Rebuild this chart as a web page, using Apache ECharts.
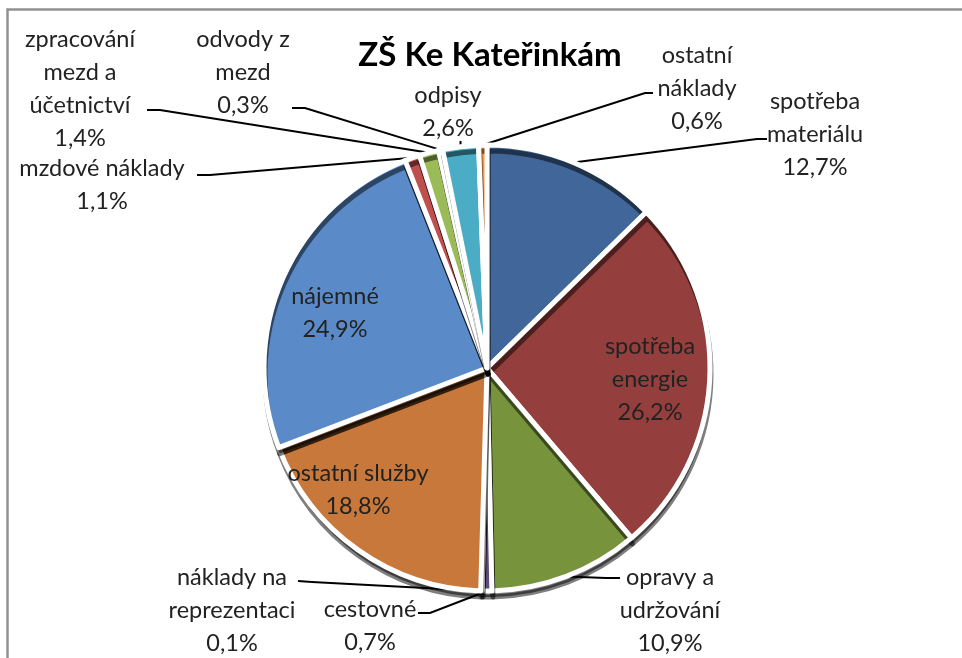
<!DOCTYPE html>
<html>
<head>
<meta charset="utf-8">
<script src="https://cdn.jsdelivr.net/npm/echarts@6/dist/echarts.min.js"></script>
<style>html,body{margin:0;padding:0;background:#fff}</style>
</head>
<body>
<div id="chart" style="width:962px;height:658px"></div>
<script>
// položky nákladů (po směru hodinových ručiček od 12 hodin)
var categories = ['spotřeba\nmateriálu', 'spotřeba\nenergie', 'opravy a\nudržování', 'cestovné',
    'náklady na\nreprezentaci', 'ostatní služby', 'nájemné', 'mzdové náklady',
    'zpracování\nmezd a\núčetnictví', 'odvody z\nmezd', 'odpisy', 'ostatní\nnáklady'];
var values = [12.7, 26.2, 10.9, 0.7, 0.1, 18.8, 24.9, 1.1, 1.4, 0.3, 2.6, 0.6];
var colors = ['#41669a', '#943f3d', '#77933c', '#604a7b', '#31859c', '#c9783b',
    '#5a8bc8', '#c0504d', '#9bbb59', '#8064a2', '#4bacc6', '#f79646'];
var insideLabel = [false, true, false, false, false, true, true, false, false, false, false, false];

// umístění popisků: [x, y textu, x, y ohybu, x, y konce čáry]
var labelPlace = [
    [815, 134, 757, 139, 767, 139],
    [650, 379],
    [670, 610, 606, 578, 620, 578],
    [370, 626, 430, 613, 418, 613],
    [232, 610, 312, 582, 298, 581],
    [358, 490],
    [335, 313],
    [102, 185, 210, 175, 197, 175],
    [80, 89, 160, 110, 147, 110],
    [243, 72, 305, 108, 292, 108],
    [448, 112, null, 141, null, 141],
    [697, 88, 645, 93, 653, 93]
];

var myChart = echarts.init(document.getElementById('chart'));

var data = values.map(function (v, i) {
    return {
        name: categories[i],
        value: v,
        itemStyle: { color: colors[i] },
        label: { position: insideLabel[i] ? 'inside' : 'outside' },
        labelLine: { show: !insideLabel[i] }
    };
});

myChart.setOption({
    animation: false,
    backgroundColor: '#fff',
    title: {
        text: 'ZŠ Ke Kateřinkám',
        left: 485,
        top: 34,
        textAlign: 'center',
        textStyle: { fontFamily: 'Lato', fontWeight: 'bold', fontSize: 33, color: '#000' }
    },
    graphic: [{
        type: 'rect',
        shape: { x: 7.5, y: 9.5, width: 1000, height: 800 },
        style: { fill: 'none', stroke: '#919191', lineWidth: 2.5 },
        silent: true
    }],
    series: [{
        type: 'pie',
        center: [487, 368],
        radius: 223,
        startAngle: 90,
        clockwise: true,
        avoidLabelOverlap: false,
        itemStyle: {
            borderColor: '#fff',
            borderWidth: 5,
            shadowColor: 'rgba(0,0,0,0.5)',
            shadowOffsetX: 1,
            shadowOffsetY: 6,
            shadowBlur: 0
        },
        label: {
            show: true,
            fontFamily: 'Lato',
            fontSize: 23.5,
            lineHeight: 33,
            color: '#222',
            align: 'center',
            formatter: function (p) {
                return p.name + '\n' + p.value.toFixed(1).replace('.', ',') + '%';
            }
        },
        labelLine: {
            lineStyle: { color: '#000', width: 2 }
        },
        labelLayout: function (params) {
            var pl = labelPlace[params.dataIndex];
            var res = { x: pl[0], y: pl[1], align: 'center', verticalAlign: 'middle' };
            if (pl.length > 2 && params.labelLinePoints) {
                var s = params.labelLinePoints[0];
                var bx = pl[2] === null ? s[0] : pl[2];
                var ex = pl[4] === null ? s[0] : pl[4];
                res.labelLinePoints = [[s[0], s[1]], [bx, pl[3]], [ex, pl[5]]];
            }
            return res;
        },
        data: data
    }]
});
</script>
</body>
</html>
